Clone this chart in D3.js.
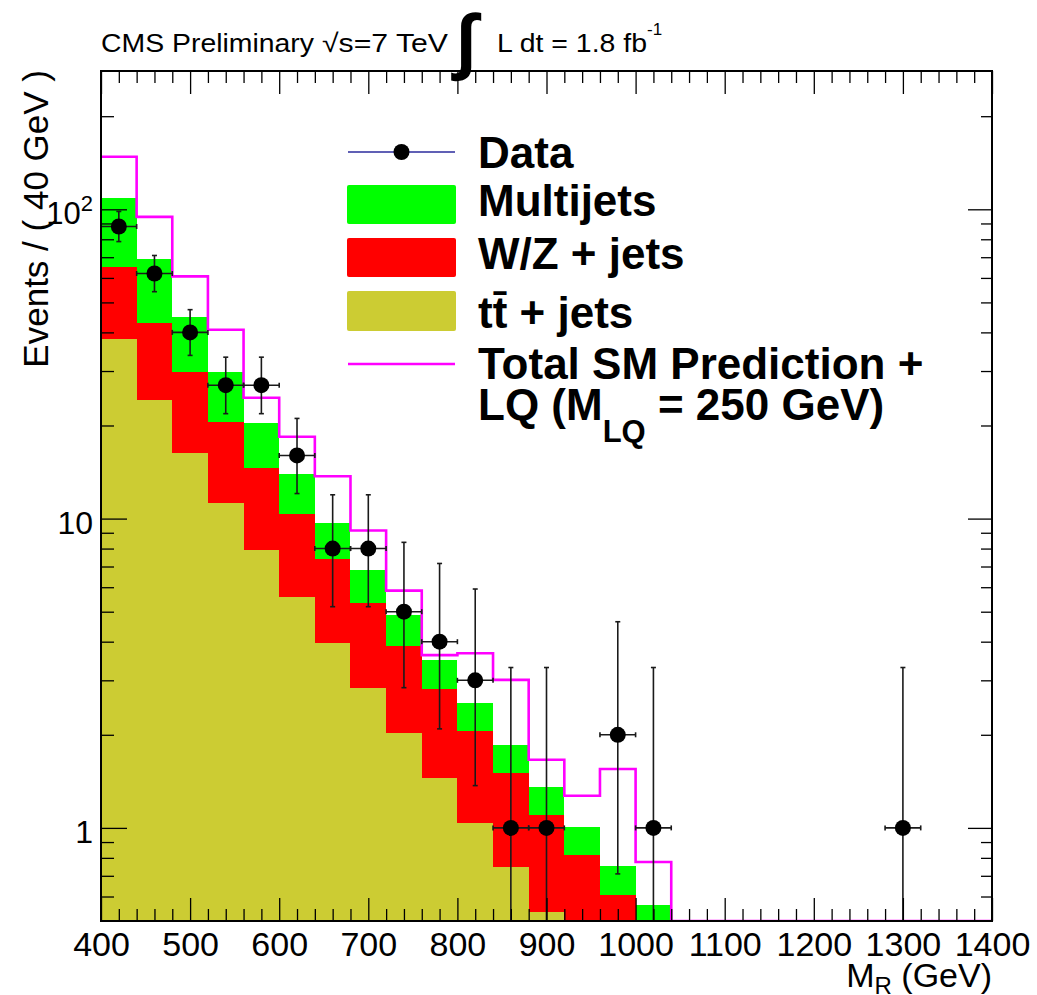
<!DOCTYPE html>
<html>
<head>
<meta charset="utf-8">
<script src="https://cdn.jsdelivr.net/npm/d3@7"></script>
<style>
  body { margin: 0; background: #fff; }
  svg { display: block; }
  text { font-family: "Liberation Sans", Arial, Helvetica, sans-serif; fill: #000; }
</style>
</head>
<body>
<svg id="chart" width="1037" height="995"></svg>
<script>
// ---------------- data ----------------
const binLow = [400, 440, 480, 520, 560, 600, 640, 680, 720, 760, 800, 840, 880,
                920, 960, 1000, 1040, 1080, 1120, 1160, 1200, 1240, 1280, 1320, 1360];
const binWidth = 40;
const ttbarJets = [38.1, 24.2, 16.3, 11.2, 7.9, 5.58, 3.96, 2.83, 2.03, 1.45, 1.04, 0.75, 0.535,
                   0.35, 0.2, 0.1, 0, 0, 0, 0, 0, 0, 0, 0, 0];
const wzJets = [26.8, 18.8, 13.4, 9.4, 6.7, 4.77, 3.45, 2.52, 1.85, 1.36, 1.01, 0.76, 0.565,
                0.466, 0.406, 0.3, 0, 0, 0, 0, 0, 0, 0, 0, 0];
const multijets = [44.0, 26.3, 15.2, 9.2, 5.7, 3.6, 2.25, 1.47, 1.0, 0.68, 0.49, 0.34, 0.26,
                   0.19, 0.146, 0.162, 0, 0, 0, 0, 0, 0, 0, 0, 0];
const totalSMplusLQ = [147.8, 94.5, 60.7, 40.8, 24.6, 18.4, 13.7, 9.15, 5.85, 3.62, 3.67, 3.01, 1.66,
                       1.27, 1.55, 0.776, 0, 0, 0, 0, 0, 0, 0, 0, 0];
const dataX = [420, 460, 500, 540, 580, 620, 660, 700, 740, 780, 820, 860, 900, 980, 1020, 1300];
const dataN = [88, 62, 40, 27, 27, 16, 8, 8, 5, 4, 3, 1, 1, 2, 1, 1];
const dataErrLow = [9.36, 7.85, 6.30, 5.16, 5.16, 3.95, 2.81, 2.81, 2.16, 1.91, 1.63, 0.83, 0.83, 1.29, 0.83, 0.83];
const dataErrHigh = [10.41, 8.91, 7.37, 6.26, 6.26, 5.08, 3.94, 3.94, 3.38, 3.16, 2.92, 2.30, 2.30, 2.64, 2.30, 2.30];
const xTickValues = [400, 500, 600, 700, 800, 900, 1000, 1100, 1200, 1300, 1400];
const yTickValues = [1, 10, 100];
const yMinorValues = [0.6, 0.7, 0.8, 0.9, 2, 3, 4, 5, 6, 7, 8, 9, 20, 30, 40, 50, 60, 70, 80, 90, 200];

// ---------------- layout ----------------
const L = 101, R = 992, T = 71, B = 921;
const svg = d3.select("#chart");
svg.append("rect").attr("width", 1037).attr("height", 995).attr("fill", "#fff");

const x = d3.scaleLinear().domain([400, 1400]).range([L, R]);
const yMin = 0.5;
const y = d3.scaleLog().domain([yMin, 280]).range([B, T]);
const yc = v => y(Math.max(v, yMin));

svg.append("clipPath").attr("id", "plotclip")
  .append("rect").attr("x", L).attr("y", T).attr("width", R - L).attr("height", B - T);

const plot = svg.append("g").attr("clip-path", "url(#plotclip)");

// stacked fills
const rows = binLow.map((b, i) => ({ b, tt: ttbarJets[i], wz: wzJets[i], mj: multijets[i] }));
const stack = d3.stack().keys(["tt", "wz", "mj"])(rows);
const fillColor = { tt: "#cccc33", wz: "#ff0000", mj: "#00ff00" };
stack.forEach(s => {
  plot.append("g").selectAll("rect").data(s).join("rect")
    .attr("x", d => x(d.data.b))
    .attr("width", d => x(d.data.b + binWidth) - x(d.data.b))
    .attr("y", d => yc(d[1]))
    .attr("height", d => Math.max(0, yc(d[0]) - yc(d[1])))
    .attr("fill", fillColor[s.key])
    .attr("shape-rendering", "crispEdges");
});

// total SM + LQ step line
const stepPts = binLow.map((b, i) => [b, totalSMplusLQ[i]]);
stepPts.push([binLow[binLow.length - 1] + binWidth, totalSMplusLQ[totalSMplusLQ.length - 1]]);
plot.append("path")
  .datum(stepPts)
  .attr("d", d3.line().x(d => x(d[0])).y(d => yc(d[1])).curve(d3.curveStepAfter))
  .attr("fill", "none").attr("stroke", "#ff00ff").attr("stroke-width", 2.6);

// axes (ticks drawn over fills)
function styleAxis(g) {
  g.select(".domain").remove();
  g.selectAll(".tick line").attr("stroke", "#000").attr("stroke-width", 1.3);
}
svg.append("g").attr("transform", `translate(0,${B})`)
  .call(d3.axisBottom(x).tickValues(xTickValues).tickSize(-23).tickPadding(11).tickFormat(d3.format("d")))
  .call(styleAxis)
  .call(g => g.selectAll("text").attr("font-size", 34).attr("font-family", "Liberation Sans, Arial, sans-serif").attr("fill", "#000"));
const xMinor = d3.range(400, 1400, 20).filter(v => v % 100 !== 0);
svg.append("g").attr("transform", `translate(0,${B})`)
  .call(d3.axisBottom(x).tickValues(xMinor).tickSize(-12).tickFormat("")).call(styleAxis);
svg.append("g").attr("transform", `translate(0,${T})`)
  .call(d3.axisTop(x).tickValues(xTickValues).tickSize(-23).tickFormat("")).call(styleAxis);
svg.append("g").attr("transform", `translate(0,${T})`)
  .call(d3.axisTop(x).tickValues(xMinor).tickSize(-12).tickFormat("")).call(styleAxis);

svg.append("g").attr("transform", `translate(${L},0)`)
  .call(d3.axisLeft(y).tickValues(yTickValues).tickSize(-26).tickFormat("")).call(styleAxis);
svg.append("g").attr("transform", `translate(${L},0)`)
  .call(d3.axisLeft(y).tickValues(yMinorValues).tickSize(-13).tickFormat("")).call(styleAxis);
svg.append("g").attr("transform", `translate(${R},0)`)
  .call(d3.axisRight(y).tickValues(yTickValues).tickSize(-24).tickFormat("")).call(styleAxis);
svg.append("g").attr("transform", `translate(${R},0)`)
  .call(d3.axisRight(y).tickValues(yMinorValues).tickSize(-11).tickFormat("")).call(styleAxis);

// y tick labels
yTickValues.forEach(v => {
  const t = svg.append("text").attr("x", 93).attr("y", y(v) + 15).attr("text-anchor", "end");
  if (v === 100) {
    t.append("tspan").attr("font-size", 31).text("10");
    t.append("tspan").attr("font-size", 22).attr("dy", -13).text("2");
  } else {
    t.attr("font-size", 32).text(String(v));
  }
});

// data points
const dataG = plot.append("g");
dataX.forEach((xv, i) => {
  const cx = x(xv), cy = y(dataN[i]);
  const yt = y(dataN[i] + dataErrHigh[i]);
  const yb = y(Math.max(dataN[i] - dataErrLow[i], 0.01));
  const xl = x(xv - binWidth / 2), xr = x(xv + binWidth / 2);
  const seg = (x1, y1, x2, y2) => dataG.append("line")
    .attr("x1", x1).attr("y1", y1).attr("x2", x2).attr("y2", y2)
    .attr("stroke", "#1a1a1a").attr("stroke-width", 1.6);
  seg(cx, yt, cx, yb);
  seg(xl, cy, xr, cy);
  seg(cx - 2.5, yt, cx + 2.5, yt);
  seg(cx - 2.5, yb, cx + 2.5, yb);
  seg(xl, cy - 2.5, xl, cy + 2.5);
  seg(xr, cy - 2.5, xr, cy + 2.5);
  dataG.append("circle").attr("cx", cx).attr("cy", cy).attr("r", 8).attr("fill", "#000");
});

// frame
svg.append("rect").attr("x", L).attr("y", T).attr("width", R - L).attr("height", B - T)
  .attr("fill", "none").attr("stroke", "#000").attr("stroke-width", 2);

// axis titles
svg.append("text")
  .attr("transform", "translate(48,70) rotate(-90)")
  .attr("text-anchor", "end").attr("font-size", 35)
  .text("Events / ( 40 GeV )");

const xt = svg.append("text").attr("x", R).attr("y", 987).attr("text-anchor", "end").attr("font-size", 34);
xt.append("tspan").text("M");
xt.append("tspan").attr("font-size", 24).attr("dy", 7).text("R");
xt.append("tspan").attr("dy", -7).text(" (GeV)");

// title
svg.append("text").attr("x", 101).attr("y", 52).attr("font-size", 26)
  .attr("textLength", 213).attr("lengthAdjust", "spacingAndGlyphs").text("CMS Preliminary");
svg.append("text").attr("x", 322).attr("y", 52).attr("font-size", 26)
  .attr("textLength", 126).attr("lengthAdjust", "spacingAndGlyphs").text("\u221As=7 TeV");
svg.append("text").attr("x", 456).attr("y", 66).attr("font-size", 74).attr("font-style", "italic")
  .attr("font-weight", "bold").attr("font-family", "DejaVu Serif, serif").text("\u222B");
const lum = svg.append("text").attr("x", 497).attr("y", 52).attr("font-size", 26);
lum.append("tspan").attr("textLength", 150).attr("lengthAdjust", "spacingAndGlyphs").text("L dt = 1.8 fb");
lum.append("tspan").attr("font-size", 17).attr("dy", -17).text("-1");

// legend
const lg = svg.append("g");
lg.append("line").attr("x1", 348).attr("x2", 455).attr("y1", 152).attr("y2", 152)
  .attr("stroke", "#2b2b9c").attr("stroke-width", 1.5);
lg.append("circle").attr("cx", 401.5).attr("cy", 152).attr("r", 8).attr("fill", "#000");
lg.append("rect").attr("x", 347).attr("y", 185).attr("width", 109).attr("height", 39).attr("rx", 2).attr("fill", fillColor.mj);
lg.append("rect").attr("x", 347).attr("y", 238).attr("width", 109).attr("height", 39).attr("rx", 2).attr("fill", fillColor.wz);
lg.append("rect").attr("x", 347).attr("y", 291).attr("width", 109).attr("height", 40).attr("rx", 2).attr("fill", fillColor.tt);
lg.append("line").attr("x1", 348).attr("x2", 455).attr("y1", 364).attr("y2", 364)
  .attr("stroke", "#ff00ff").attr("stroke-width", 2.6);

const legText = (yy) => lg.append("text").attr("x", 478).attr("y", yy)
  .attr("font-size", 44).attr("font-weight", "bold");
legText(168).text("Data");
legText(216).text("Multijets");
legText(269).text("W/Z + jets");
legText(328).text("tt\u0304 + jets");
legText(379).text("Total SM Prediction +");
const lq = legText(420);
lq.append("tspan").text("LQ (M");
lq.append("tspan").attr("font-size", 31).attr("dy", 22).text("LQ");
lq.append("tspan").attr("dy", -22).text(" = 250 GeV)");
</script>
</body>
</html>
